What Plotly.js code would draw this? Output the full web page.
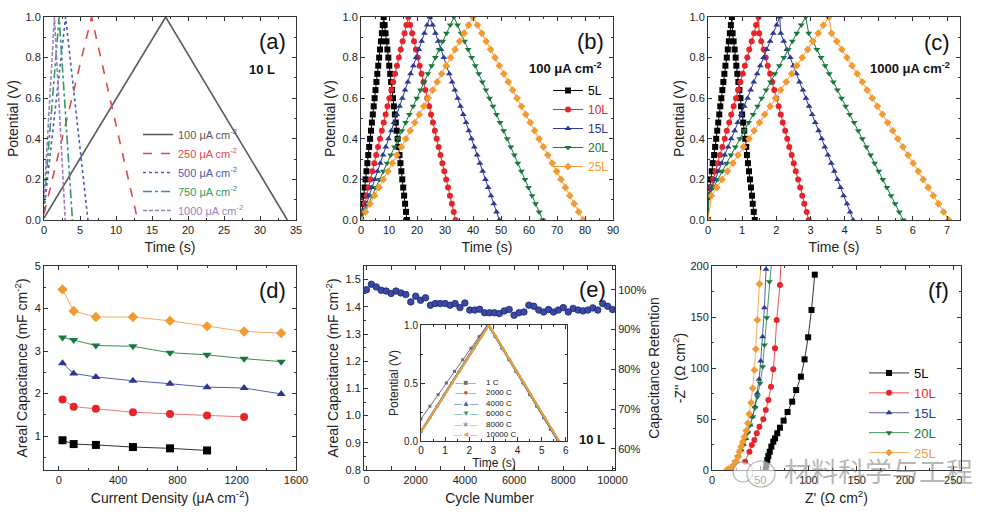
<!DOCTYPE html>
<html><head><meta charset="utf-8">
<script src="https://cdn.plot.ly/plotly-3.0.1.min.js"></script>
<style>html,body{margin:0;padding:0;background:#fff}#chart{width:981px;height:515px}</style>
</head><body><div id="chart"></div>
<script>
// ---------------- DATA ----------------
// (a) 10 L at different current densities
const aTime100 = [0, 16.9, 33.8];   const aPot100 = [0.01, 1.0, 0.0];
const aTime250 = [0, 6.6, 13.0];    const aPot250 = [0.03, 1.0, 0.0];
const aTime500 = [0, 3.0, 6.1];     const aPot500 = [0.05, 1.0, 0.0];
const aTime750 = [0, 2.1, 3.95];    const aPot750 = [0.08, 1.0, 0.0];
const aTime1000 = [0, 1.45, 2.95];  const aPot1000 = [0.10, 1.0, 0.0];
const aNames = ['100 μA cm<sup>-2</sup>','250 μA cm<sup>-2</sup>','500 μA cm<sup>-2</sup>','750 μA cm<sup>-2</sup>','1000 μA cm<sup>-2</sup>'];

// (b) 100 uA cm-2, shared potential levels (charge then discharge)
const bPot = [0,0.04,0.08,0.12,0.16,0.2,0.24,0.28,0.32,0.36,0.4,0.44,0.48,0.52,0.56,0.6,0.64,0.68,0.72,0.76,0.8,0.84,0.88,0.92,0.96,1,
  0.96,0.92,0.88,0.84,0.8,0.76,0.72,0.68,0.64,0.6,0.56,0.52,0.48,0.44,0.4,0.36,0.32,0.28,0.24,0.2,0.16,0.12,0.08,0.04,0];
const bTime5L = [0,0.32,0.65,0.97,1.30,1.62,1.94,2.27,2.59,2.92,3.24,3.56,3.89,4.21,4.54,4.86,5.18,5.51,5.83,6.16,6.48,6.80,7.13,7.45,7.78,8.10,
  8.43,8.76,9.10,9.43,9.76,10.09,10.42,10.76,11.09,11.42,11.75,12.08,12.42,12.75,13.08,13.41,13.74,14.08,14.41,14.74,15.07,15.40,15.74,16.07,16.40];
const bTime10L = [0,0.68,1.35,2.03,2.70,3.38,4.06,4.73,5.41,6.08,6.76,7.44,8.11,8.79,9.46,10.14,10.82,11.49,12.17,12.84,13.52,14.20,14.87,15.55,16.22,16.90,
  17.58,18.25,18.93,19.60,20.28,20.96,21.63,22.31,22.98,23.66,24.34,25.01,25.69,26.36,27.04,27.72,28.39,29.07,29.74,30.42,31.10,31.77,32.45,33.12,33.80];
const bTime15L = [0,0.98,1.97,2.95,3.94,4.92,5.90,6.89,7.87,8.86,9.84,10.82,11.81,12.79,13.78,14.76,15.74,16.73,17.71,18.70,19.68,20.66,21.65,22.63,23.62,24.60,
  25.59,26.58,27.58,28.57,29.56,30.55,31.54,32.54,33.53,34.52,35.51,36.50,37.50,38.49,39.48,40.47,41.46,42.46,43.45,44.44,45.43,46.42,47.42,48.41,49.40];
const bTime20L = [0,1.33,2.66,3.98,5.31,6.64,7.97,9.30,10.62,11.95,13.28,14.61,15.94,17.26,18.59,19.92,21.25,22.58,23.90,25.23,26.56,27.89,29.22,30.54,31.87,33.20,
  34.47,35.74,37.00,38.27,39.54,40.81,42.08,43.34,44.61,45.88,47.15,48.42,49.68,50.95,52.22,53.49,54.76,56.02,57.29,58.56,59.83,61.10,62.36,63.63,64.90];
const bTime25L = [0,1.6,3.2,4.8,6.4,8.0,9.6,11.2,12.8,14.4,16.0,17.6,19.2,20.8,22.4,24.0,25.6,27.2,28.8,30.4,32.0,33.6,35.2,36.8,38.4,40.0,
  41.57,43.14,44.72,46.29,47.86,49.43,51.00,52.58,54.15,55.72,57.29,58.86,60.44,62.01,63.58,65.15,66.72,68.30,69.87,71.44,73.01,74.58,76.16,77.73,79.30];

// (c) 1000 uA cm-2, shared potential levels (with IR steps)
const cPot = [0,0.12,0.16,0.2,0.24,0.28,0.32,0.36,0.4,0.44,0.48,0.52,0.56,0.6,0.64,0.68,0.72,0.76,0.8,0.84,0.88,0.92,0.96,1,
  0.92,0.88,0.84,0.8,0.76,0.72,0.68,0.64,0.6,0.56,0.52,0.48,0.44,0.4,0.36,0.32,0.28,0.24,0.2,0.16,0.12,0.08,0.04,0];
const cTime5L = [0,0.02,0.05,0.08,0.11,0.14,0.18,0.21,0.24,0.27,0.30,0.33,0.36,0.39,0.42,0.45,0.48,0.51,0.55,0.58,0.61,0.64,0.67,0.70,
  0.72,0.75,0.78,0.81,0.83,0.86,0.89,0.92,0.95,0.97,1.00,1.03,1.06,1.09,1.12,1.14,1.17,1.20,1.23,1.26,1.29,1.31,1.34,1.37];
const cTime10L = [0,0.02,0.09,0.15,0.22,0.29,0.35,0.42,0.49,0.55,0.62,0.68,0.75,0.82,0.88,0.95,1.02,1.08,1.15,1.21,1.28,1.35,1.41,1.48,
  1.50,1.56,1.63,1.69,1.75,1.82,1.88,1.94,2.00,2.07,2.13,2.19,2.26,2.32,2.38,2.45,2.51,2.57,2.64,2.70,2.76,2.82,2.89,2.95];
const cTime15L = [0,0.02,0.12,0.21,0.30,0.40,0.49,0.59,0.68,0.78,0.87,0.97,1.06,1.16,1.25,1.34,1.44,1.53,1.63,1.72,1.82,1.91,2.01,2.10,
  2.13,2.22,2.31,2.41,2.50,2.59,2.68,2.78,2.87,2.96,3.05,3.14,3.24,3.33,3.42,3.51,3.61,3.70,3.79,3.88,3.97,4.07,4.16,4.25];
const cTime20L = [0,0.03,0.16,0.29,0.42,0.55,0.67,0.80,0.93,1.06,1.19,1.32,1.45,1.57,1.70,1.83,1.96,2.09,2.22,2.35,2.47,2.60,2.73,2.86,
  2.95,3.07,3.19,3.31,3.43,3.55,3.67,3.79,3.91,4.03,4.15,4.28,4.40,4.52,4.64,4.76,4.88,5.00,5.12,5.24,5.36,5.48,5.60,5.72];
const cTime25L = [0,0.10,0.26,0.41,0.57,0.73,0.88,1.04,1.20,1.35,1.51,1.66,1.82,1.98,2.13,2.29,2.45,2.60,2.76,2.92,3.07,3.23,3.38,3.54,
  3.62,3.77,3.92,4.07,4.22,4.37,4.52,4.66,4.81,4.96,5.11,5.26,5.41,5.56,5.71,5.86,6.01,6.16,6.30,6.45,6.60,6.75,6.90,7.05];

const layerNames = ['5L','10L','15L','20L','25L'];

// (d) areal capacitance vs current density
const dCurrent = [25,100,250,500,750,1000,1250,1500];
const d5L  = [0.90,0.81,0.79,0.74,0.71,0.66];
const d10L = [1.86,1.69,1.64,1.56,1.52,1.48,1.45];
const d15L = [2.71,2.47,2.39,2.30,2.23,2.15,2.13,1.99];
const d20L = [3.32,3.26,3.13,3.11,2.96,2.91,2.82,2.75];
const d25L = [4.45,3.94,3.80,3.80,3.71,3.58,3.46,3.42];

// (e) cycling of 10 L
const eCycle = [0,200,400,600,800,1000,1200,1400,1600,1800,2000,2200,2400,2600,2800,3000,3200,3400,3600,3800,4000,4200,4400,4600,4800,5000,
  5200,5400,5600,5800,6000,6200,6400,6600,6800,7000,7200,7400,7600,7800,8000,8200,8400,8600,8800,9000,9200,9400,9600,9800,10000];
const eCap = [1.463,1.483,1.473,1.461,1.458,1.449,1.458,1.451,1.445,1.418,1.439,1.424,1.433,1.406,1.412,1.412,1.412,1.406,1.412,1.397,1.414,
  1.388,1.388,1.391,1.378,1.378,1.378,1.375,1.385,1.390,1.369,1.378,1.381,1.406,1.402,1.388,1.381,1.390,1.381,1.388,1.397,1.381,1.394,
  1.388,1.385,1.388,1.396,1.388,1.412,1.402,1.390];
const eRetentionTicks = [60,70,80,90,100];

// (e) inset GCD curves at different cycle numbers
const insetNames = ['1 C','2000 C','4000 C','6000 C','8000 C','10000 C'];
const insPot1C = [0.19,0.3,0.4,0.5,0.6,0.7,0.8,0.9,1.0,0.9,0.8,0.7,0.6,0.5,0.4,0.3,0.2,0.1,0.0];
const insTime1C = [0,0.37,0.71,1.05,1.39,1.73,2.07,2.41,2.75,3.07,3.35,3.64,3.93,4.22,4.50,4.79,5.08,5.36,5.65];
const insPot = [0.08,0.2,0.3,0.4,0.5,0.6,0.7,0.8,0.9,1.0,0.9,0.8,0.7,0.6,0.5,0.4,0.3,0.2,0.1,0.0];
const insTime2000 = [0,0.37,0.67,0.97,1.28,1.58,1.89,2.19,2.49,2.80,3.09,3.38,3.67,3.96,4.25,4.54,4.83,5.12,5.41,5.70];
const insTime4000 = [0,0.36,0.66,0.96,1.27,1.57,1.88,2.18,2.48,2.79,3.08,3.37,3.66,3.95,4.24,4.53,4.82,5.11,5.40,5.69];
const insTime6000 = [0,0.37,0.67,0.98,1.28,1.59,1.89,2.20,2.50,2.80,3.09,3.38,3.67,3.96,4.25,4.54,4.83,5.12,5.41,5.70];
const insTime8000 = [0,0.38,0.68,0.98,1.29,1.59,1.90,2.20,2.51,2.81,3.10,3.39,3.68,3.97,4.26,4.55,4.84,5.13,5.42,5.71];
const insTime10000 = [0,0.38,0.68,0.99,1.29,1.60,1.90,2.21,2.51,2.82,3.10,3.39,3.68,3.97,4.26,4.55,4.84,5.13,5.42,5.72];

// (f) Nyquist plots
const fRe5L  = [55.7,56.3,57.3,58.4,59.8,61.5,63.5,65.3,67.6,70.4,74.2,78.3,83.1,87.2,92.1,95.9,99.6,103.1,106.5];
const fIm5L  = [0.7,4.9,9.8,13.7,17.9,22.9,27.8,31.0,36.0,41.5,48.4,56.9,67.0,78.4,91.5,108.5,130.1,156.9,191.5];
const fRe10L = [34.3,38.8,41.2,43.9,46.4,49.1,53.2,55.7,58.4,61.1,63.5,65.3,67.0,70.4,71.8];
const fIm10L = [8.1,17.9,24.5,29.4,36.0,42.5,49.7,58.8,68.6,81.7,98.7,119.3,147.1,181.4,210];
const fRe15L = [19.9,22.3,25.1,27.5,30.2,32.6,35.1,37.1,39.5,41.9,44.6,47.0,48.8,50.5,52.5,54.3,56.0,57.6];
const fIm15L = [0.7,4.2,8.8,13.7,19.6,25.2,31.0,37.6,44.1,52.3,62.1,75.2,88.9,106.9,130.7,159.1,196.8,210];
const fRe20L = [18.9,21.6,24.0,26.8,29.5,32.0,34.3,37.1,39.5,42.2,44.6,47.0,49.8,52.5,54.3,56.7,59.4,62.3];
const fIm20L = [0.7,3.9,8.2,13.0,18.9,24.5,30.1,36.6,44.1,52.3,61.1,71.9,85.0,101.3,122.5,149.3,184.6,210];
const fRe25L = [15.5,17.1,19.9,22.3,24.7,26.8,28.5,30.2,32.0,33.6,35.4,37.1,38.5,40.5,42.2,43.9,45.4,47.0,49.1,51.9];
const fIm25L = [0,0.8,1.6,4.9,8.2,13.0,17.9,22.9,27.8,32.7,38.5,45.8,54.9,66.0,80.1,98.0,118.6,147.1,182.4,210];

// ---------------- STYLE / LAYOUT ----------------
const W = 981, H = 515;
const dx = (a, b) => [a / W, b / W];
const dy = (top, bottom) => [1 - bottom / H, 1 - top / H];
const X = v => v / W, Y = v => 1 - v / H;
const FONT = 'Arial, "Liberation Sans", sans-serif';
const LC = ['#000000', '#e8242b', '#2b3896', '#17793a', '#f39a33'];
const SYM = ['square', 'circle', 'triangle-up', 'triangle-down', 'diamond'];
const colored = (c, t) => '<span style="color:' + c + '">' + t + '</span>';

function ax(o) {
  const a = {
    showline: true, linecolor: '#333', linewidth: 1, mirror: 'allticks',
    ticks: 'inside', ticklen: 4, tickwidth: 1, tickcolor: '#333',
    showgrid: false, zeroline: false, automargin: false, fixedrange: true,
    tickfont: { family: FONT, size: o.tfs || 11, color: '#222' },
    minor: { ticks: 'inside', ticklen: 2, tickcolor: '#333', dtick: o.minor },
    title: { text: o.title || '', font: { family: FONT, size: o.fs || 14, color: '#222' }, standoff: o.standoff == null ? 4 : o.standoff }
  };
  ['domain','anchor','range','dtick','tick0','tickformat','overlaying','side','tickmode','tickvals','ticktext','mirror'].forEach(k => { if (o[k] !== undefined) a[k] = o[k]; });
  return a;
}

const traces = [];
// (a)
const aSets = [[aTime100,aPot100,'#5a5a5a','solid'],[aTime250,aPot250,'#e04848','dash'],[aTime500,aPot500,'#4a5db0','dot'],
               [aTime750,aPot750,'#2f9c63','dashdot'],[aTime1000,aPot1000,'#9b82bd','4px,2px']];
aSets.forEach((s, i) => traces.push({x: s[0], y: s[1], xaxis: 'x', yaxis: 'y', mode: 'lines',
  line: {color: s[2], width: 1.6, dash: s[3]}, name: colored(s[2], aNames[i]), legend: 'legend'}));
// (b)
[bTime5L,bTime10L,bTime15L,bTime20L,bTime25L].forEach((t, i) => traces.push({x: t, y: bPot, xaxis: 'x2', yaxis: 'y2',
  mode: 'lines+markers', line: {color: LC[i], width: 1}, marker: {symbol: SYM[i], size: 6, color: LC[i]},
  name: colored(LC[i], layerNames[i]), legend: 'legend2'}));
// (c)
[cTime5L,cTime10L,cTime15L,cTime20L,cTime25L].forEach((t, i) => traces.push({x: t, y: cPot, xaxis: 'x3', yaxis: 'y3',
  mode: 'lines+markers', line: {color: LC[i], width: 1}, marker: {symbol: SYM[i], size: 6, color: LC[i]},
  name: layerNames[i], showlegend: false}));
// (d)
const dLine = ['#333333','#f07878','#5562ab','#3f8a55','#f5aa62'];
[d5L,d10L,d15L,d20L,d25L].forEach((v, i) => traces.push({x: dCurrent.slice(0, v.length), y: v, xaxis: 'x4', yaxis: 'y4',
  mode: 'lines+markers', line: {color: dLine[i], width: 1}, marker: {symbol: SYM[i], size: 8, color: LC[i]},
  name: layerNames[i], showlegend: false}));
// (e)
traces.push({x: eCycle, y: eCap, xaxis: 'x5', yaxis: 'y5', mode: 'markers', name: '10 L',
  marker: {symbol: 'circle', size: 6.5, color: '#3b49a6', line: {color: '#1d2672', width: 0.8}}, showlegend: false});
// retention (same points on the right-hand axis; invisible, it only carries that axis)
traces.push({x: eCycle, y: eCap.map(v => v / eCap[0] * 100), xaxis: 'x5', yaxis: 'y8', mode: 'markers', name: 'Retention',
  marker: {size: 6.5, color: 'rgba(0,0,0,0)'}, hoverinfo: 'skip', showlegend: false});
// inset
const insC = ['#6e6e6e','#d9443a','#3b5bb5','#2e9a6a','#9a90c0','#e8a040'];
const insS = ['square','circle','triangle-up','triangle-down','star','triangle-left'];
const insData = [[insTime1C,insPot1C],[insTime2000,insPot],[insTime4000,insPot],[insTime6000,insPot],[insTime8000,insPot],[insTime10000,insPot]];
insData.forEach((d, i) => traces.push({x: d[0], y: d[1], xaxis: 'x7', yaxis: 'y7', mode: 'lines+markers',
  line: {color: insC[i], width: i === 0 ? 1 : 2}, marker: {symbol: insS[i], size: 3, color: insC[i]},
  name: insetNames[i], showlegend: false}));
// (f)
[[fRe5L,fIm5L],[fRe10L,fIm10L],[fRe15L,fIm15L],[fRe20L,fIm20L],[fRe25L,fIm25L]].forEach((d, i) => traces.push({x: d[0], y: d[1],
  xaxis: 'x6', yaxis: 'y6', mode: 'lines+markers', line: {color: LC[i], width: 0.8},
  marker: {symbol: SYM[i], size: 6, color: LC[i]}, name: colored(LC[i], layerNames[i]), legend: 'legend3'}));

const topY = dy(17, 220), botY = dy(266, 470);
const layout = {
  width: W, height: H, margin: {l: 0, r: 0, t: 0, b: 0},
  paper_bgcolor: '#ffffff', plot_bgcolor: '#ffffff',
  font: {family: FONT, size: 11, color: '#222'},
  xaxis:  ax({domain: dx(44, 296), anchor: 'y', range: [0, 35], dtick: 5, minor: 2.5, title: 'Time (s)', standoff: 6}),
  yaxis:  ax({domain: topY, anchor: 'x', range: [0, 1], dtick: 0.2, minor: 0.1, tickformat: '.1f', title: 'Potential (V)', standoff: 3}),
  xaxis2: ax({domain: dx(361, 613), anchor: 'y2', range: [0, 90], dtick: 10, minor: 5, title: 'Time (s)', standoff: 6}),
  yaxis2: ax({domain: topY, anchor: 'x2', range: [0, 1], dtick: 0.2, minor: 0.1, tickformat: '.1f', title: 'Potential (V)', standoff: 3}),
  xaxis3: ax({domain: dx(708, 960), anchor: 'y3', range: [0, 7.38], dtick: 1, minor: 0.5, title: 'Time (s)', standoff: 6}),
  yaxis3: ax({domain: topY, anchor: 'x3', range: [0, 1], dtick: 0.2, minor: 0.1, tickformat: '.1f', title: 'Potential (V)', standoff: 1}),
  xaxis4: ax({domain: dx(44, 296), anchor: 'y4', range: [-100, 1600], dtick: 400, tick0: 0, minor: 200, title: 'Current Density (μA cm<sup>-2</sup>)', standoff: 7}),
  yaxis4: ax({domain: botY, anchor: 'x4', range: [0.2, 5], dtick: 1, tick0: 0, minor: 0.5, title: 'Areal Capacitance (mF cm<sup>-2</sup>)', standoff: 3}),
  xaxis5: ax({domain: dx(364, 615), anchor: 'y5', range: [-100, 10100], dtick: 2000, tick0: 0, minor: 1000, tickformat: 'd', title: 'Cycle Number', standoff: 7}),
  yaxis5: ax({domain: botY, anchor: 'x5', range: [0.8, 1.55], dtick: 0.1, tick0: 0.8, minor: 0.05, tickformat: '.1f', mirror: false, title: 'Areal Capacitance (mF cm<sup>-2</sup>)', standoff: 3}),
  yaxis8: ax({domain: botY, anchor: 'x5', overlaying: 'y5', side: 'right', range: [0.8 / eCap[0] * 100, 1.55 / eCap[0] * 100],
              tickmode: 'array', tickvals: eRetentionTicks, ticktext: eRetentionTicks.map(v => v + '%'), minor: 5, mirror: false,
              title: 'Capacitance Retention', standoff: 3}),
  xaxis7: ax({domain: dx(421, 567), anchor: 'y7', range: [0, 6.05], dtick: 1, minor: 0.5, tfs: 10, fs: 12, title: 'Time (s)', standoff: 2}),
  yaxis7: ax({domain: dy(325, 441), anchor: 'x7', range: [0, 1], dtick: 0.5, minor: 0.25, tickformat: '.1f', tfs: 10, fs: 12, title: 'Potential (V)', standoff: 2}),
  xaxis6: ax({domain: dx(712, 961), anchor: 'y6', range: [0, 258], dtick: 50, minor: 25, title: "Z' (Ω cm<sup>2</sup>)", standoff: 7}),
  yaxis6: ax({domain: botY, anchor: 'x6', range: [0, 200], dtick: 50, minor: 25, title: "-Z'' (Ω cm<sup>2</sup>)", standoff: 1}),
  legend:  {x: X(138), y: Y(120), xanchor: 'left', yanchor: 'top', bgcolor: 'rgba(0,0,0,0)', font: {family: FONT, size: 11}, tracegroupgap: 0, itemwidth: 30},
  legend2: {x: X(548), y: Y(76), xanchor: 'left', yanchor: 'top', bgcolor: 'rgba(0,0,0,0)', font: {family: FONT, size: 12}, tracegroupgap: 0, itemwidth: 30},
  legend3: {x: X(864), y: Y(358), xanchor: 'left', yanchor: 'top', bgcolor: 'rgba(0,0,0,0)', font: {family: FONT, size: 13}, tracegroupgap: 0, itemwidth: 40},
  annotations: [], shapes: []
};
const ann = (x, y, text, size, extra) => layout.annotations.push(Object.assign({xref: 'paper', yref: 'paper', x: X(x), y: Y(y),
  text: text, showarrow: false, font: {family: FONT, size: size, color: '#111'}, xanchor: 'center', yanchor: 'middle'}, extra || {}));
ann(272, 41, '(a)', 22); ann(262, 70, '<b>10 L</b>', 13);
ann(590, 41, '(b)', 22); ann(565, 68, '<b>100 μA cm<sup>-2</sup></b>', 13);
ann(937, 42, '(c)', 22); ann(910, 68, '<b>1000 μA cm<sup>-2</sup></b>', 13);
ann(272, 290, '(d)', 22);
ann(592, 289, '(e)', 22); ann(592, 439, '<b>10 L</b>', 13);
ann(938, 290, '(f)', 22);
// inset legend (compact, drawn as text)
const insGlyph = ['■','●','▲','▼','★','◄'];
ann(466, 408, insGlyph.map((g, i) => colored(insC[i], '—' + g + '—')).join('<br>'), 8);
ann(484, 408, insetNames.join('<br>'), 8, {xanchor: 'left', align: 'left'});
// watermark
layout.shapes.push({type: 'circle', xref: 'paper', yref: 'paper', x0: X(733), x1: X(753), y0: Y(482), y1: Y(462), line: {color: 'rgba(120,120,120,0.55)', width: 1.2}, fillcolor: 'rgba(255,255,255,0.6)'});
layout.shapes.push({type: 'circle', xref: 'paper', yref: 'paper', x0: X(747), x1: X(775), y0: Y(487), y1: Y(461), line: {color: 'rgba(120,120,120,0.55)', width: 1.2}, fillcolor: 'rgba(255,255,255,0.6)'});
ann(878, 470, '材料科学与工程', 27, {font: {family: '"Noto Sans CJK SC", sans-serif', size: 27, color: 'rgba(110,110,110,0.5)'}});

Plotly.newPlot('chart', traces, layout, {displayModeBar: false, staticPlot: true});
</script></body></html>
